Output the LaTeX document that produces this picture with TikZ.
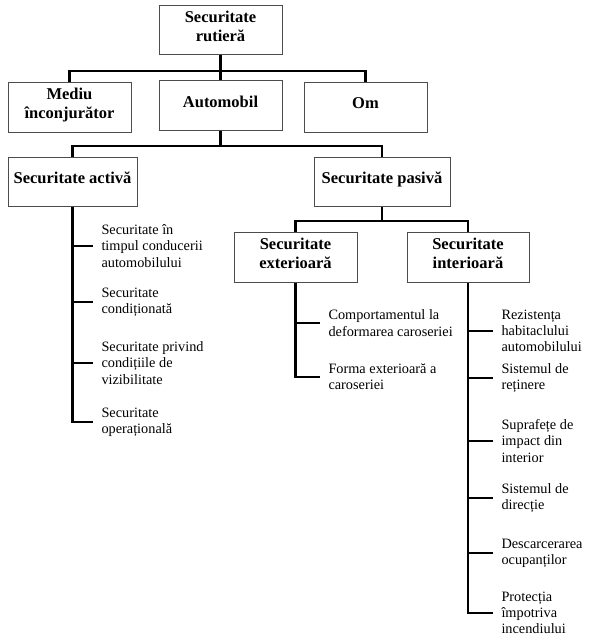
\documentclass[tikz,border=0pt]{standalone}
\usepackage{fontspec}
\setmainfont{Liberation Serif}
\begin{document}
\begin{tikzpicture}[x=1pt,y=-1pt,
  box/.style={draw=black!70, line width=1pt, rectangle, align=center,
    minimum width=123pt, minimum height=50pt, inner sep=0pt, text depth=7pt,
    font=\fontsize{16.5}{18.7}\selectfont\bfseries},
  item/.style={anchor=west, align=left, inner sep=0pt, outer xsep=8.5pt,
    font=\fontsize{14.3}{16.3}\selectfont},
  conn/.style={line width=2.7pt, line join=miter, draw=black}]
\useasboundingbox (0,0) rectangle (591,640);
\fill[white] (0,0) rectangle (591,640);

% boxes
\node[box, minimum height=49pt] (root) at (220.5,29.5) {Securitate\\rutieră};
\node[box] (mediu) at (69.5,107) {Mediu\\înconjurător};
\node[box] (auto) at (220.5,105) {Automobil};
\node[box] (om) at (365.5,107) {Om};
\node[box, minimum width=129pt, minimum height=49pt] (activa) at (72.5,181.5) {Securitate activă};
\node[box, minimum width=136pt, minimum height=49pt] (pasiva) at (382,181.5) {Securitate pasivă};
\node[box] (ext) at (295.5,257) {Securitate\\exterioară};
\node[box, minimum width=122pt] (int) at (468,257) {Securitate\\interioară};

% bus coordinates
\coordinate (bus1) at (220.5,71);
\coordinate (bus2) at (220.5,146);
\coordinate (bus3) at (382,221);

% level connectors
\draw[conn] (root.south) -- (bus1);
\draw[conn] (mediu.north) |- (bus1) -| (om.north);
\draw[conn] (bus1) -- (auto.north);
\draw[conn] (auto.south) -- (bus2);
\draw[conn] (activa.north) |- (bus2) -| (pasiva.north);
\draw[conn] (pasiva.south) -- (bus3);
\draw[conn] (ext.north) |- (bus3) -| (int.north);

% active list
\node[item] (a1) at (93,246) {Securitate în\\timpul conducerii\\automobilului};
\node[item] (a2) at (93,302) {Securitate\\condiționată};
\node[item] (a3) at (93,363) {Securitate privind\\condițiile de\\vizibilitate};
\node[item] (a4) at (93,422) {Securitate\\operațională};
\draw[conn] (activa.south) |- (a4.west);
\foreach \n in {a1,a2,a3} \draw[conn] (activa.south |- \n.west) -- (\n.west);

% exterior list
\node[item] (e1) at (320,323) {Comportamentul la\\deformarea caroseriei};
\node[item] (e2) at (320,377) {Forma exterioară a\\caroseriei};
\draw[conn] (ext.south) |- (e2.west);
\draw[conn] (ext.south |- e1.west) -- (e1.west);

% interior list
\node[item] (i1) at (493,331) {Rezistența\\habitaclului\\automobilului};
\node[item] (i2) at (493,378) {Sistemul de\\reținere};
\node[item] (i3) at (493,441) {Suprafețe de\\impact din\\interior};
\node[item] (i4) at (493,498) {Sistemul de\\direcție};
\node[item] (i5) at (493,553) {Descarcerarea\\ocupanților};
\node[item] (i6) at (493,613) {Protecția\\împotriva\\incendiului};
\draw[conn] (int.south) |- (i6.west);
\foreach \n in {i1,i2,i3,i4,i5} \draw[conn] (int.south |- \n.west) -- (\n.west);
\end{tikzpicture}
\end{document}
